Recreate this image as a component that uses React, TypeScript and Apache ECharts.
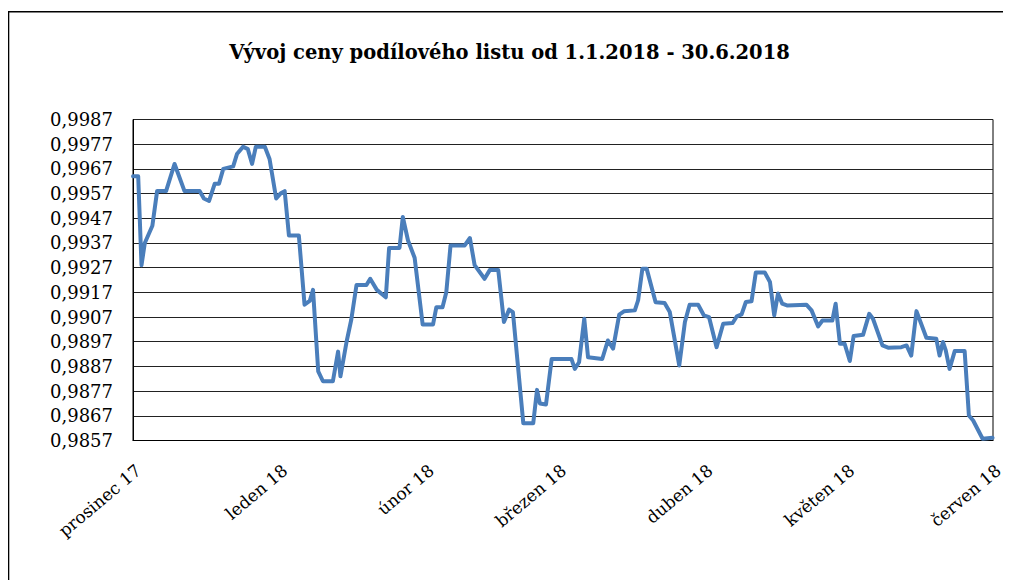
import React, { useEffect, useRef } from "react";
import * as echarts from "echarts";

// Start of the date axis (prosinec 2017) and end (červen 2018)
const AXIS_START = [2017, 11, 1];
const AXIS_END = [2018, 5, 1];

// Czech month names for the x-axis labels
const monthNames = [
  "leden", "únor", "březen", "duben", "květen", "červen",
  "červenec", "srpen", "září", "říjen", "listopad", "prosinec",
];

// Y-axis ticks (0,9857 … 0,9987 step 0,001)
const yMin = 0.9857;
const yMax = 0.9987;
const yStep = 0.001;

// Day offsets from 1. 12. 2017 of each vertex of the price line
const dayOffsets = [
  0.0, 1.1, 1.8, 2.5, 4.1, 5.1, 7.0, 8.8, 10.9, 14.1, 15.0, 16.1, 17.3, 18.2,
  19.1, 21.2, 22.0, 23.3, 24.3, 25.2, 26.0, 27.9, 28.9, 30.3, 31.2, 32.1, 33.0,
  35.1, 36.3, 37.4, 38.1, 39.2, 40.2, 42.3, 43.4, 43.9, 45.2, 46.2, 47.3, 49.4,
  50.2, 51.6, 53.5, 54.2, 56.4, 57.1, 58.2, 59.6, 61.3, 63.5, 64.2, 65.5, 66.3,
  67.2, 70.2, 71.3, 72.3, 74.4, 75.5, 77.3, 78.5, 79.6, 80.4, 82.6, 84.7, 85.5,
  86.1, 87.4, 88.6, 92.8, 93.5, 94.4, 95.5, 96.3, 99.3, 100.5, 101.6, 102.9,
  103.9, 106.2, 106.9, 107.8, 108.7, 110.6, 112.5, 113.6, 115.6, 116.8, 117.8,
  119.6, 120.8, 121.9, 123.5, 124.9, 126.9, 127.8, 128.8, 129.7, 130.9, 131.8,
  133.7, 134.8, 135.7, 136.5, 137.4, 138.4, 142.5, 143.6, 145.0, 145.9, 148.0,
  148.7, 149.6, 150.6, 151.7, 152.5, 154.5, 155.8, 156.6, 158.6, 159.8, 162.6,
  163.7, 164.7, 165.8, 167.9, 170.0, 170.7, 171.4, 172.0, 172.8, 173.9, 176.0,
  176.9, 177.8, 179.8, 181.9,
];

// Unit price (podílový list) at each vertex
const prices = [
  0.9964, 0.9964, 0.9928, 0.9937, 0.9944, 0.9958, 0.9958, 0.9969, 0.9958, 0.9958,
  0.9955, 0.9954, 0.9961, 0.9961, 0.9967, 0.9968, 0.9973, 0.9976, 0.9975, 0.9969,
  0.9976, 0.9976, 0.9971, 0.9955, 0.9957, 0.9958, 0.994, 0.994, 0.9912, 0.99135,
  0.9918, 0.9885, 0.9881, 0.9881, 0.9893, 0.9883, 0.9897, 0.9906, 0.992, 0.992,
  0.99225, 0.9918, 0.9915, 0.9935, 0.9935, 0.99475, 0.9938, 0.9931, 0.9904, 0.9904,
  0.9911, 0.9911, 0.9917, 0.9936, 0.9936, 0.9939, 0.9928, 0.99225, 0.9926, 0.9926,
  0.9905, 0.991, 0.9909, 0.9864, 0.9864, 0.98775, 0.9872, 0.98716, 0.989, 0.989,
  0.9886, 0.98887, 0.99063, 0.98907, 0.989, 0.98975, 0.98942, 0.9908, 0.99093,
  0.99097, 0.99138, 0.99266, 0.99266, 0.9913, 0.99127, 0.9909, 0.98874, 0.9905,
  0.9912, 0.9912, 0.99077, 0.9907, 0.98948, 0.99043, 0.99046, 0.99073, 0.99081,
  0.99131, 0.99134, 0.9925, 0.9925, 0.99212, 0.99077, 0.99165, 0.99124, 0.99117,
  0.9912, 0.99097, 0.99032, 0.99056, 0.99056, 0.99124, 0.98962, 0.98962, 0.98892,
  0.98993, 0.98998, 0.99083, 0.99063, 0.98955, 0.98946, 0.98948, 0.98955, 0.98914,
  0.99094, 0.98986, 0.98982, 0.98914, 0.98969, 0.98935, 0.9886, 0.98932, 0.98932,
  0.98671, 0.98651, 0.98577, 0.98581,
];

const TITLE = "Vývoj ceny podílového listu od 1.1.2018 - 30.6.2018";
const DAY = 24 * 3600 * 1000;

export default function App() {
  const ref = useRef<HTMLDivElement>(null);

  useEffect(() => {
    if (!ref.current) return;
    const chart = echarts.init(ref.current, null, { renderer: "svg" });
    const start = new Date(AXIS_START[0], AXIS_START[1], AXIS_START[2]).getTime();
    const end = new Date(AXIS_END[0], AXIS_END[1], AXIS_END[2]).getTime();
    const data = dayOffsets.map((d, i) => [start + d * DAY, prices[i]]);

    chart.setOption({
      animation: false,
      backgroundColor: "#ffffff",
      title: {
        text: TITLE,
        left: "center",
        top: 29,
        textStyle: {
          fontFamily: "DejaVu Serif",
          fontWeight: "bold",
          fontSize: 19.5,
          color: "#000",
        },
      },
      graphic: [
        {
          type: "rect",
          shape: { x: 0.5, y: 3.8, width: 1100, height: 700 },
          style: { fill: "none", stroke: "#000", lineWidth: 1.6 },
          silent: true,
        },
      ],
      grid: {
        left: 125,
        top: 111.5,
        right: 18,
        bottom: 139.5,
        show: true,
        borderColor: "#000",
        borderWidth: 1,
        backgroundColor: "transparent",
      },
      xAxis: {
        type: "time",
        min: start,
        max: end,
        splitNumber: 6,
        minInterval: 28 * DAY,
        maxInterval: 31 * DAY,
        axisLine: { show: true, lineStyle: { color: "#000", width: 1 } },
        axisTick: { show: false },
        splitLine: { show: false },
        axisLabel: {
          rotate: 40,
          margin: 21,
          verticalAlign: "top",
          showMinLabel: true,
          showMaxLabel: true,
          hideOverlap: false,
          fontFamily: "DejaVu Serif",
          fontSize: 17,
          color: "#000",
          formatter: (val: number) => {
            const d = new Date(val);
            return `${monthNames[d.getMonth()]} ${String(d.getFullYear()).slice(2)}`;
          },
        },
      },
      yAxis: {
        type: "value",
        min: yMin,
        max: yMax,
        interval: yStep,
        axisLine: { show: true, lineStyle: { color: "#000", width: 1 } },
        axisTick: { show: false },
        splitLine: { show: true, lineStyle: { color: "#222", width: 1 } },
        axisLabel: {
          margin: 20,
          fontFamily: "DejaVu Serif",
          fontSize: 18,
          color: "#000",
          formatter: (v: number) => v.toFixed(4).replace(".", ","),
        },
      },
      series: [
        {
          type: "line",
          data,
          showSymbol: false,
          symbol: "none",
          lineStyle: { color: "#4A7EBB", width: 4, join: "round", cap: "round" },
          emphasis: { disabled: true },
        },
      ],
    });

    return () => chart.dispose();
  }, []);

  return <div ref={ref} style={{ width: 1003, height: 572 }} />;
}
